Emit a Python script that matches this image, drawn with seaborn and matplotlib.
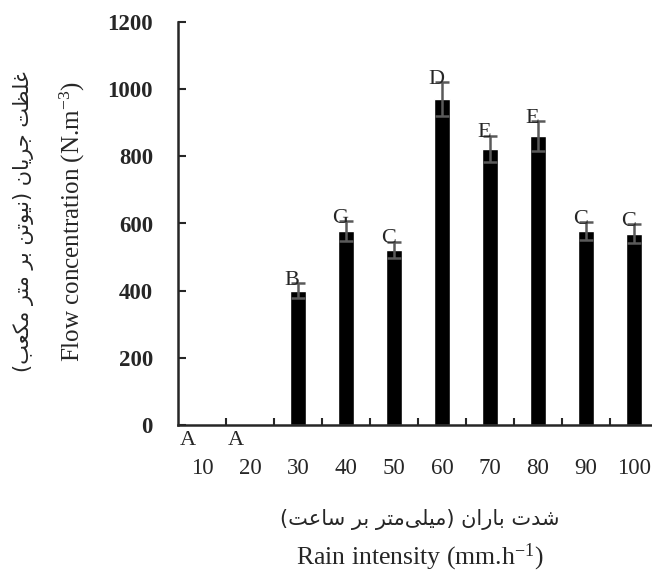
import matplotlib
matplotlib.use('Agg')
import matplotlib.pyplot as plt
import numpy as np
import pandas as pd
import seaborn as sns

# data
rain = ['10', '20', '30', '40', '50', '60', '70', '80', '90', '100']
flow = [0, 0, 400, 578, 521, 970, 822, 860, 578, 570]
err = [0, 0, 22, 30, 25, 50, 40, 45, 27, 28]
groups = ['A', 'A', 'B', 'G', 'C', 'D', 'E', 'E', 'C', 'C']
yticks = [0, 200, 400, 600, 800, 1000, 1200]

ylabel_en = 'Flow concentration (N.m$^{\\mathregular{-3}}$)'
xlabel_en = 'Rain intensity (mm.h$^{\\mathregular{-1}}$)'

# Persian labels: matplotlib does no Arabic shaping / bidi, so the words are
# written with presentation forms in visual (left to right) order
# "غلظت جریان (نیوتن بر متر مکعب)"
ylabel_fa = ('(\uFE90\uFECC\uFB91\uFEE3 \uFEAE\uFE98\uFEE3 \uFEAE\uFE91 '
             '\uFEE6\uFE97\uFEEE\uFBFF\uFEE7) '
             '\uFEE5\uFE8E\uFBFE\uFEAE\uFE9F \uFE96\uFEC8\uFEE0\uFECF')
# "شدت باران (میلی‌متر بر ساعت)"
xlabel_fa = ('(\uFE96\uFECB\uFE8E\uFEB3 \uFEAE\uFE91 '
             '\uFEAE\uFE98\uFEE3\uFBFD\uFEE0\uFBFF\uFEE3) '
             '\uFEE5\uFE8D\uFEAD\uFE8E\uFE91 \uFE95\uFEAA\uFEB7')

sns.set_style('ticks')
plt.rcParams['font.family'] = ['Liberation Serif', 'DejaVu Sans']
plt.rcParams['mathtext.fontset'] = 'custom'
plt.rcParams['mathtext.rm'] = 'Liberation Serif'
plt.rcParams['mathtext.it'] = 'Liberation Serif:italic'

df = pd.DataFrame({'rain': rain, 'flow': flow, 'err': err})

W, H = 652, 575
fig = plt.figure(figsize=(W / 100, H / 100), dpi=100)
ax = fig.add_axes([178 / W, 150 / H, 480 / W, 403 / H])

sns.barplot(data=df, x='rain', y='flow', order=rain, color='black',
            saturation=1, width=0.33, ax=ax)

pos = np.arange(len(rain))
has_err = df['err'] > 0
ax.errorbar(pos[has_err], df['flow'][has_err], yerr=df['err'][has_err],
            fmt='none', ecolor='#5a5a5a', elinewidth=1.8, capsize=4.7,
            capthick=1.8, zorder=3)

# letters of the mean comparison
for i, (v, e, g) in enumerate(zip(flow, err, groups)):
    if v == 0:
        ax.text(i - 0.3, -45, g, ha='center', va='center', fontsize=16,
                clip_on=False)
    else:
        ax.text(i - 0.12, v + e + 8, g, ha='center', va='center',
                fontsize=16, zorder=4)

ax.set_xlim(-0.5, 9.5)
ax.set_ylim(0, 1200)
ax.set_yticks(yticks)
ax.set_xlabel('')
ax.set_ylabel('')
ax.set_xticks(pos + 0.5, minor=True)
ax.tick_params(axis='x', which='major', length=0, pad=24, labelsize=16.5)
ax.tick_params(axis='x', which='minor', direction='in', length=5, width=1.5)
ax.tick_params(axis='y', direction='in', length=6, width=1.5, pad=18,
               labelsize=16.5)
for lab in ax.get_yticklabels():
    lab.set_fontweight('bold')

sns.despine(ax=ax)
for s in ['left', 'bottom']:
    ax.spines[s].set_linewidth(1.8)

# axis titles, Persian beside English
fig.text(24 / W, 1 - 222 / H, ylabel_fa, rotation=90, ha='center',
         va='center', fontsize=15, family=['DejaVu Sans'])
fig.text(72 / W, 1 - 222 / H, ylabel_en, rotation=90, ha='center',
         va='center', fontsize=18)
fig.text(420 / W, 1 - 520 / H, xlabel_fa, ha='center', va='center',
         fontsize=15, family=['DejaVu Sans'])
fig.text(420 / W, 1 - 557 / H, xlabel_en, ha='center', va='center',
         fontsize=18.5)

fig.savefig('out.png', dpi=100, facecolor='white')
